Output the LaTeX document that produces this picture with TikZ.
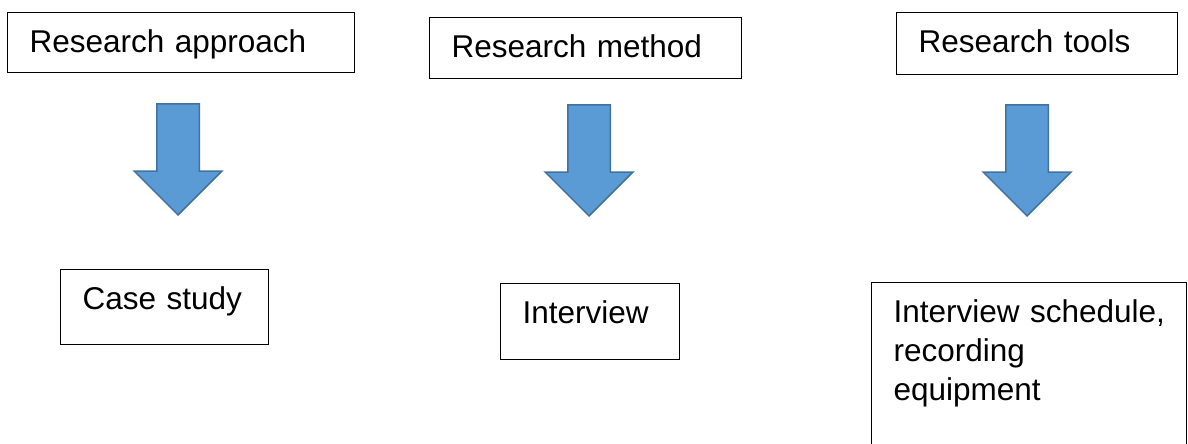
\documentclass[tikz,border=0pt]{standalone}
\usepackage{fontspec}
\setmainfont{Liberation Sans}
\usetikzlibrary{shapes.arrows}
\definecolor{bleu}{HTML}{5B9BD5}
\definecolor{bleufonce}{HTML}{41719C}

\begin{document}
\begin{tikzpicture}[x=1pt, y=-1pt]
\tikzset{boite/.style={draw, line width=1.3pt, anchor=north west, align=left, inner xsep=22pt, inner ysep=0pt, text height=40pt, font=\fontsize{31.5}{39}\selectfont}}
\tikzset{fleche/.style={single arrow, draw=bleufonce, fill=bleu, line width=1.5pt, rotate=-90, anchor=tip, minimum height=111pt, inner xsep=0pt, inner ysep=20.5pt, single arrow head extend=22.5pt, single arrow head indent=0pt}}
\clip (0, 0) rectangle (1188, 444);
\node[boite, text width=303pt, text depth=20pt] (A1) at (7, 12) {Research approach};
\node[boite, text width=268pt, text depth=21pt] (A2) at (429, 17) {Research method};
\node[boite, text width=237pt, text depth=22pt] (A3) at (896, 12) {Research tools};
\node[fleche] (F1) at (178, 216) {};
\node[fleche] (F2) at (589, 217) {};
\node[fleche] (F3) at (1027, 217) {};
\node[boite, text width=164pt, text depth=35pt] (B1) at (60, 269) {Case study};
\node[boite, text width=135pt, text depth=36pt] (B2) at (500, 283) {Interview};
\node[boite, text width=271pt, text depth=128pt] (B3) at (871, 282) {\mbox{Interview schedule,}\\ recording\\ equipment};
\end{tikzpicture}
\end{document}
